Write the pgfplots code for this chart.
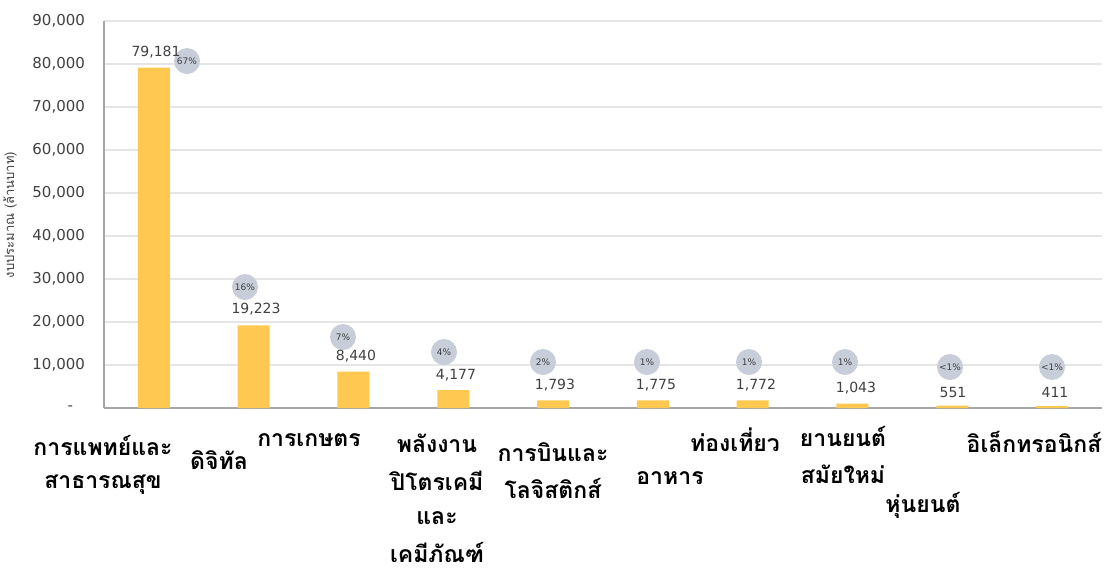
\documentclass[border=0pt]{standalone}
\usepackage{fontspec}
\setmainfont{DejaVu Sans}
\newfontfamily\thaifont[Script=Thai]{Loma}
\usepackage{pgfplots}
\pgfplotsset{compat=1.18}
\definecolor{barc}{HTML}{FFC850}
\definecolor{circ}{HTML}{C7CED9}
\definecolor{txt}{HTML}{404040}
\newcommand\at[2]{({(#1-104)*0.5},{(408-#2)*0.5})}
\newcommand\val[3]{\node[font=\fontsize{7}{8}\selectfont, text=txt] at \at{#1}{#2} {#3};}
\newcommand\pct[4]{\fill[circ] \at{#1}{#2} circle (6.5pt); \node[font=\fontsize{4.5}{5}\selectfont, text=txt] at \at{#3}{#2} {#4};}
\newcommand\lab[3]{\node[font=\thaifont\bfseries\fontsize{11.5}{14}\selectfont, text=black, inner sep=0pt] at \at{#1}{#2} {#3};}
\begin{document}
\begin{tikzpicture}[x=1pt,y=1pt]
\begin{axis}[at={(0,0)}, anchor=south west, scale only axis, width=499pt, height=193.5pt,
 xmin=-0.5, xmax=9.5, ymin=0, ymax=90000,
 ybar, bar width=16pt,
 axis x line*=bottom, axis y line*=left,
 axis line style={draw=black!35, line width=0.8pt},
 xtick=\empty,
 scaled y ticks=false,
 ytick={0,10000,20000,30000,40000,50000,60000,70000,80000,90000},
 yticklabels={{-\hspace*{6pt}},{10,000},{20,000},{30,000},{40,000},{50,000},{60,000},{70,000},{80,000},{90,000}},
 ymajorgrids, grid style={draw=black!10, line width=0.6pt},
 major tick length=0pt,
 yticklabel style={font=\fontsize{7.5}{9}\selectfont, text=txt, xshift=-6pt},
 clip=false,
]
\addplot[fill=barc, draw=none] coordinates {(0,79181) (1,19223) (2,8440) (3,4177) (4,1793) (5,1775) (6,1772) (7,1043) (8,551) (9,411)};
\end{axis}
% y label
\node[rotate=90, font=\thaifont\fontsize{6.5}{7}\selectfont, text=txt] at \at{10}{215} {งบประมาณ (ล้านบาท)};
% percentage circles
\pct{187}{61}{187}{67\%}
\pct{245}{287}{245}{16\%}
\pct{343}{337}{343}{7\%}
\pct{444}{352}{444}{4\%}
\pct{543}{362}{543}{2\%}
\pct{647}{362}{647}{1\%}
\pct{749}{362}{749}{1\%}
\pct{845}{362}{845}{1\%}
\pct{950}{367}{950}{<1\%}
\pct{1052}{367}{1052}{<1\%}
% value labels
\val{156}{52}{79,181}
\val{256}{309}{19,223}
\val{356}{356}{8,440}
\val{456}{375}{4,177}
\val{555}{385}{1,793}
\val{656}{385}{1,775}
\val{756}{385}{1,772}
\val{856}{388}{1,043}
\val{953}{392}{551}
\val{1055}{392}{411}
% category labels
\lab{103}{445}{การแพทย์และ}
\lab{103}{485}{สาธารณสุข}
\lab{219}{460}{ดิจิทัล}
\lab{309}{440}{การเกษตร}
\lab{437}{443}{พลังงาน}
\lab{437}{481}{ปิโตรเคมี}
\lab{437}{518}{และ}
\lab{437}{552}{เคมีภัณฑ์}
\lab{553}{452}{การบินและ}
\lab{553}{488}{โลจิสติกส์}
\lab{670}{478}{อาหาร}
\lab{735}{440}{ท่องเที่ยว}
\lab{843}{436}{ยานยนต์}
\lab{843}{474}{สมัยใหม่}
\lab{923}{505}{หุ่นยนต์}
\lab{1034}{442}{อิเล็กทรอนิกส์}
\pgfresetboundingbox
\path[use as bounding box] (-52,-81) rectangle (500,204);
\end{tikzpicture}
\end{document}
